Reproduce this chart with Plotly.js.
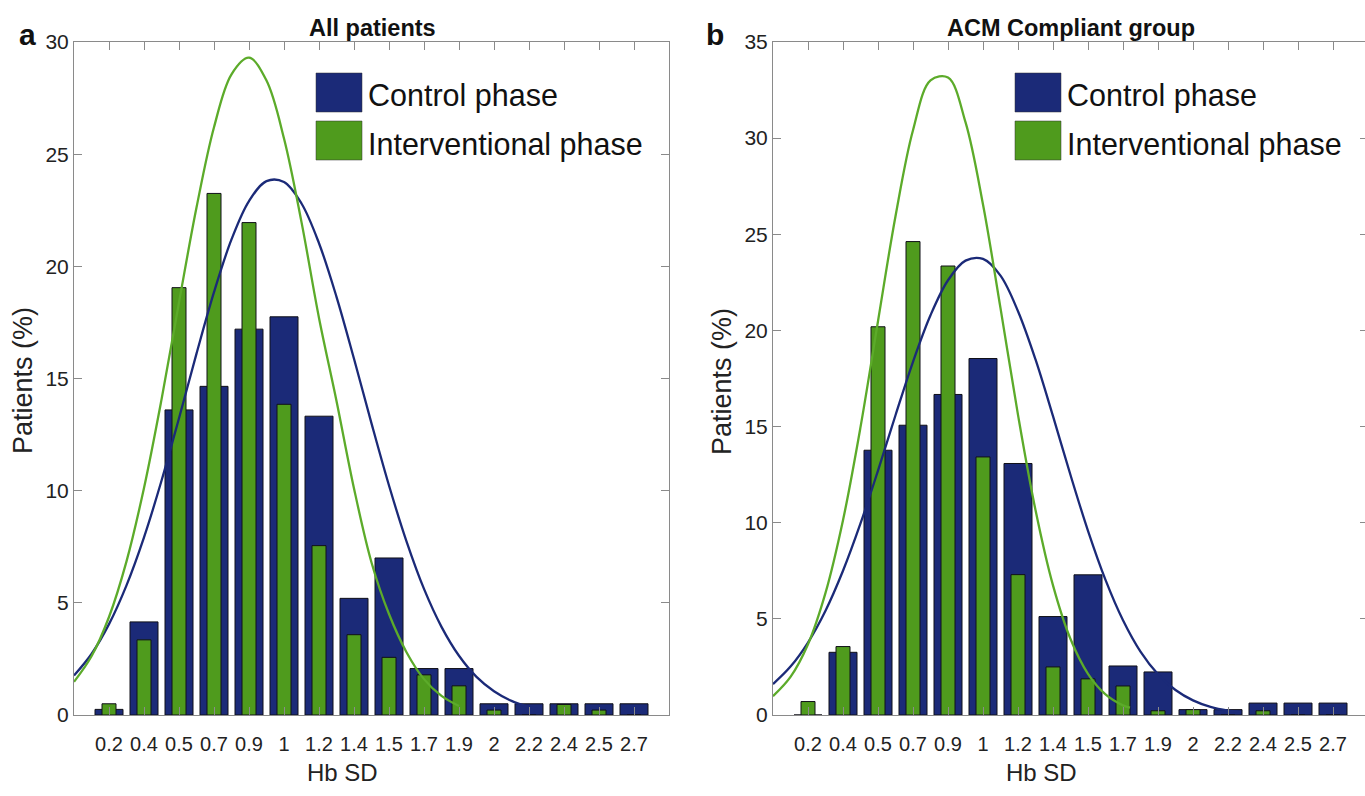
<!DOCTYPE html>
<html>
<head>
<meta charset="utf-8">
<script src="https://cdn.plot.ly/plotly-3.0.1.min.js"></script>
<style>
  html, body { margin: 0; padding: 0; overflow: hidden; background: #fff; }
  #chart { width: 1370px; height: 796px; }
</style>
</head>
<body>
<div id="chart"></div>
<script>
// ---------------- data ----------------
const hbLabels = ['0.2','0.4','0.5','0.7','0.9','1','1.2','1.4','1.5','1.7','1.9','2','2.2','2.4','2.5','2.7'];
const binIndex = [1,2,3,4,5,6,7,8,9,10,11,12,13,14,15,16];

// Panel a: All patients (% of patients per Hb SD bin)
const allControl = [0.25, 4.15, 13.6, 14.65, 17.2, 17.75, 13.32, 5.2, 7.0, 2.07, 2.07, 0.5, 0.5, 0.5, 0.5, 0.5];
const allInterv  = [0.5, 3.35, 19.05, 23.25, 21.95, 13.85, 7.55, 3.58, 2.57, 1.79, 1.3, 0.22, 0, 0.47, 0.22, 0];

// Panel b: ACM compliant group
const acmControl = [0, 3.26, 13.77, 15.07, 16.67, 18.54, 13.08, 5.12, 7.29, 2.55, 2.24, 0.28, 0.28, 0.62, 0.62, 0.62];
const acmInterv  = [0.7, 3.56, 20.19, 24.62, 23.35, 13.42, 7.3, 2.5, 1.88, 1.51, 0.22, 0.28, 0, 0.22, 0, 0];

// Fitted normal curves (x in bin-index units)
const allControlFitX = [0,0.5,1,1.5,2,2.5,3,3.5,4,4.5,5,5.5,6,6.5,7,7.5,8,8.5,9,9.5,10,10.5,11,11.5,12,12.5,13,13.25];
const allControlFitY = [1.76,2.72,4.05,5.78,7.92,10.44,13.23,16.11,18.85,21.2,22.91,23.8,23.76,22.8,21.03,18.64,15.88,13.0,10.23,7.74,5.62,3.93,2.64,1.70,1.06,0.63,0.36,0.27];

const allIntervFitX = [0,0.5,1,1.5,2,2.5,3,3.5,4,4.5,5,5.5,6,6.5,7,7.5,8,8.5,9,9.5,10,10.5,11];
const allIntervFitY = [1.48,2.62,4.37,6.85,10.12,14.06,18.39,22.62,26.2,28.56,29.3,28.28,25.7,21.97,17.7,14.0,10.1,6.8,4.5,2.8,1.6,0.85,0.4];

const acmControlFitX = [0,0.5,1,1.5,2,2.5,3,3.5,4,4.5,5,5.5,6,6.5,7,7.5,8,8.5,9,9.5,10,10.5,11,11.5,12,12.5,13,13.3];
const acmControlFitY = [1.61,2.52,3.77,5.42,7.5,9.96,12.71,15.59,18.37,20.79,22.61,23.63,23.72,22.85,21.0,18.49,15.54,12.48,9.58,7.03,4.93,3.30,2.12,1.30,0.76,0.42,0.23,0.17];

const acmIntervFitX = [0,0.5,1,1.5,2,2.5,3,3.5,4,4.5,5,5.5,6,6.5,7,7.5,8,8.5,9,9.5,10,10.2];
const acmIntervFitY = [0.98,1.98,3.68,6.35,10.13,14.97,20.48,25.94,30.41,33.0,33.15,30.83,26.55,21.16,15.61,10.66,6.74,3.95,2.14,1.07,0.5,0.38];

const seriesNames = ['Control phase', 'Interventional phase'];
const panelTitles = ['All patients', 'ACM Compliant group'];
const panelLetters = ['a', 'b'];
const xTitle = 'Hb SD';
const yTitle = 'Patients (%)';

// ---------------- styling ----------------
const BLUE = '#1b2a78';
const GREEN = '#4f9b1d';
const GREEN_LINE = '#5cab2a';
const EDGE = '#101018';
const AXIS = '#8a8a8a';
const FONT = '"Liberation Sans", Arial, Helvetica, sans-serif';
const W = 1370, H = 796;
const px = v => v / W;
const py = v => 1 - v / H;

function bars(y, color, width, xa, ya) {
  return { type: 'bar', x: binIndex, y: y, width: width, xaxis: xa, yaxis: ya,
    marker: { color: color, line: { color: EDGE, width: 1 } }, showlegend: false, hoverinfo: 'skip' };
}
function fit(x, y, color, xa, ya) {
  return { type: 'scatter', mode: 'lines', x: x, y: y, xaxis: xa, yaxis: ya,
    line: { color: color, width: 2.3, shape: 'spline', smoothing: 1 }, showlegend: false, hoverinfo: 'skip' };
}

const data = [
  bars(allControl, BLUE, 0.8, 'x', 'y'),
  bars(allInterv, GREEN, 0.4, 'x', 'y'),
  fit(allControlFitX, allControlFitY, BLUE, 'x', 'y'),
  fit(allIntervFitX, allIntervFitY, GREEN_LINE, 'x', 'y'),
  bars(acmControl, BLUE, 0.8, 'x2', 'y2'),
  bars(acmInterv, GREEN, 0.4, 'x2', 'y2'),
  fit(acmControlFitX, acmControlFitY, BLUE, 'x2', 'y2'),
  fit(acmIntervFitX, acmIntervFitY, GREEN_LINE, 'x2', 'y2')
];

function xAxis(domain, anchor) {
  return { domain: domain, anchor: anchor, range: [0, 17], tickmode: 'array',
    tickvals: binIndex, ticktext: hbLabels, tickangle: 0, ticks: 'inside', ticklen: 8, tickcolor: AXIS,
    mirror: 'ticks', showline: true, linecolor: AXIS, linewidth: 1, showgrid: false, zeroline: false,
    ticklabelstandoff: 11, tickfont: { family: FONT, size: 20, color: '#222' } };
}
function yAxis(domain, anchor, max) {
  return { domain: domain, anchor: anchor, range: [0, max], dtick: 5, ticks: 'inside', ticklen: 8,
    tickcolor: AXIS, mirror: 'ticks', showline: true, linecolor: AXIS, linewidth: 1, showgrid: false,
    zeroline: false, tickfont: { family: FONT, size: 21, color: '#222' } };
}

const yDom = [py(715), py(42)];
const layout = {
  width: W, height: H, margin: { l: 0, r: 0, t: 0, b: 0 },
  paper_bgcolor: '#fff', plot_bgcolor: '#fff', barmode: 'overlay', showlegend: false,
  xaxis: xAxis([px(74), px(669)], 'y'),
  yaxis: yAxis(yDom, 'x', 30),
  xaxis2: xAxis([px(773), px(1368)], 'y2'),
  yaxis2: yAxis(yDom, 'x2', 35),
  shapes: [],
  annotations: []
};

const panelOffsets = [0, 699];
panelOffsets.forEach((off, i) => {
  // legend patches
  layout.shapes.push({ type: 'rect', xref: 'paper', yref: 'paper', x0: px(316 + off), x1: px(362 + off),
    y0: py(112), y1: py(73), fillcolor: BLUE, line: { color: '#333', width: 0.5 } });
  layout.shapes.push({ type: 'rect', xref: 'paper', yref: 'paper', x0: px(316 + off), x1: px(362 + off),
    y0: py(160), y1: py(121), fillcolor: GREEN, line: { color: '#333', width: 0.5 } });
  layout.annotations.push({ xref: 'paper', yref: 'paper', x: px(366 + off), y: py(96), xanchor: 'left', yanchor: 'middle',
    text: seriesNames[0], showarrow: false, font: { family: FONT, size: 30.5, color: '#111' } });
  layout.annotations.push({ xref: 'paper', yref: 'paper', x: px(366 + off), y: py(144), xanchor: 'left', yanchor: 'middle',
    text: seriesNames[1], showarrow: false, font: { family: FONT, size: 30.5, color: '#111' } });
  // panel title
  layout.annotations.push({ xref: 'paper', yref: 'paper', x: px(372 + off), y: py(28), xanchor: 'center', yanchor: 'middle',
    text: '<b>' + panelTitles[i] + '</b>', showarrow: false, font: { family: FONT, size: 23.5, color: '#111' } });
  // panel letter
  layout.annotations.push({ xref: 'paper', yref: 'paper', x: px(27 + off - (i ? 11 : 0)), y: py(34), xanchor: 'center', yanchor: 'middle',
    text: '<b>' + panelLetters[i] + '</b>', showarrow: false, font: { family: FONT, size: 30, color: '#111' } });
  // x title
  layout.annotations.push({ xref: 'paper', yref: 'paper', x: px(342 + off), y: py(772), xanchor: 'center', yanchor: 'middle',
    text: xTitle, showarrow: false, font: { family: FONT, size: 24, color: '#222' } });
  // y title
  layout.annotations.push({ xref: 'paper', yref: 'paper', x: px(23 + off), y: py(381), xanchor: 'center', yanchor: 'middle',
    text: yTitle, textangle: -90, showarrow: false, font: { family: FONT, size: 27, color: '#222' } });
});

Plotly.newPlot('chart', data, layout, { staticPlot: true, displayModeBar: false });
</script>
</body>
</html>
